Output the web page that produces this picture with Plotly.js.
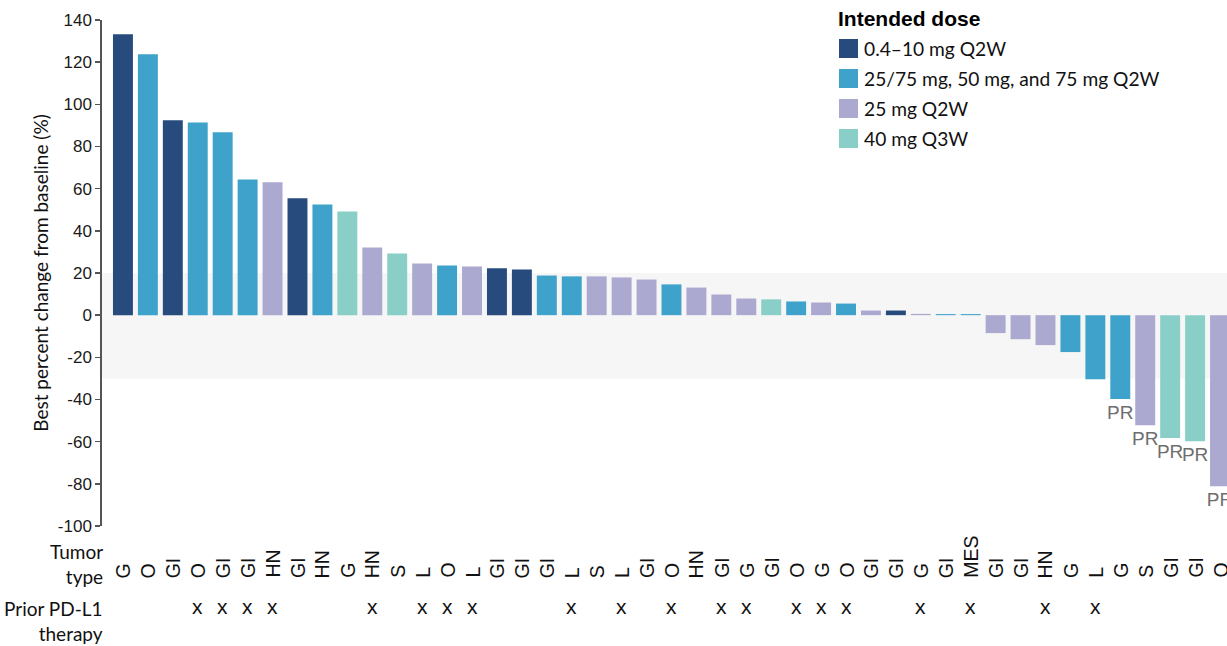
<!DOCTYPE html>
<html>
<head>
<meta charset="utf-8">
<script src="https://cdn.plot.ly/plotly-3.0.1.min.js"></script>
<style>
  html, body { margin: 0; padding: 0; background: #ffffff; }
  #chart { width: 1227px; height: 646px; }
</style>
</head>
<body>
<div id="chart"></div>
<script>
// Best percent change from baseline per patient, sorted descending
const patientIndex = [0,1,2,3,4,5,6,7,8,9,10,11,12,13,14,15,16,17,18,19,20,21,22,23,24,25,26,27,28,29,30,31,32,33,34,35,36,37,38,39,40,41,42,43,44];
const bestChange = [133.2, 123.7, 92.4, 91.4, 86.7, 64.4, 63.0, 55.4, 52.5, 49.2,
                    32.1, 29.3, 24.5, 23.6, 23.1, 22.2, 21.7, 18.8, 18.4, 18.4,
                    17.9, 16.9, 14.6, 13.1, 9.8, 7.9, 7.5, 6.5, 6.0, 5.5,
                    2.2, 2.2, 0.6, 0.5, 0.5, -8.5, -11.4, -14.2, -17.5, -30.4,
                    -39.8, -52.2, -58.3, -59.8, -81.1];
// Intended dose group for each patient (index into doseLabels)
const doseGroup = [0,1,0,1,1,1,2,0,1,3, 2,3,2,1,2,0,0,1,1,2, 2,2,1,2,2,2,3,1,2,1,
                   2,0,2,1,1,2,2,2,1,1, 1,2,3,3,2];
const doseLabels = ['0.4\u201310 mg Q2W', '25/75 mg, 50 mg, and 75 mg Q2W', '25 mg Q2W', '40 mg Q3W'];
const doseColors = ['#274b7d', '#3fa2ca', '#aca9d0', '#89cfc8'];
const tumorType = ['G','O','GI','O','GI','GI','HN','GI','HN','G','HN','S','L','O','L','GI','GI','GI','L','S',
                   'L','GI','O','HN','GI','G','GI','O','G','O','GI','GI','G','GI','MES','GI','GI','HN','G','L',
                   'G','S','GI','GI','O'];
const priorPDL1 = [0,0,0,1,1,1,1,0,0,0, 1,0,1,1,1,0,0,0,1,0, 1,0,1,0,1,1,0,1,1,1,
                   0,0,1,0,1,0,0,1,0,1, 0,0,0,0,0];
const response = ['','','','','','','','','','', '','','','','','','','','','',
                  '','','','','','','','','','', '','','','','','','','','','',
                  'PR','PR','PR','PR','PR'];
const yTicks = [140, 120, 100, 80, 60, 40, 20, 0, -20, -40, -60, -80, -100];

// Plot area geometry in pixels
const W = 1227, H = 646;
const M = { l: 102, r: 0, t: 20, b: 120 };
const plotW = W - M.l - M.r, plotH = H - M.t - M.b;
const px2x = px => (px - M.l) / plotW;
const px2y = py => (M.t + plotH - py) / plotH;

const ARIAL = 'Liberation Sans, Arial, sans-serif';
const HUMAN = 'Lato, Open Sans, sans-serif';

const trace = {
  type: 'bar',
  x: patientIndex,
  y: bestChange,
  width: 0.8,
  marker: { color: doseGroup.map(g => doseColors[g]), line: { width: 0 } },
  text: response,
  textposition: 'outside',
  textangle: 0,
  constraintext: 'none',
  cliponaxis: false,
  textfont: { family: ARIAL, size: 19, color: '#6e6e6e' },
  hoverinfo: 'skip',
  showlegend: false
};

const annotations = [];
const shapes = [];

// Band between -30% and +20%
shapes.push({
  type: 'rect', xref: 'paper', yref: 'y', x0: 0, x1: 1, y0: -30, y1: 20,
  fillcolor: '#f6f6f6', line: { width: 0 }, layer: 'below'
});

// Tumor type labels, rotated, aligned at the bottom; prior therapy marks below
tumorType.forEach((t, i) => {
  annotations.push({
    xref: 'x', yref: 'paper', x: patientIndex[i], y: px2y(580),
    text: t, textangle: -90, showarrow: false,
    xanchor: 'center', yanchor: 'bottom',
    font: { family: ARIAL, size: 19.5, color: '#111111' }
  });
  if (priorPDL1[i]) {
    annotations.push({
      xref: 'x', yref: 'paper', x: patientIndex[i], y: px2y(606),
      text: 'x', showarrow: false, xanchor: 'center', yanchor: 'middle',
      font: { family: ARIAL, size: 21, color: '#111111' }
    });
  }
});

// Row headers
annotations.push({
  xref: 'paper', yref: 'paper', x: 0, y: px2y(564), xshift: 3,
  text: 'Tumor<br>type', align: 'right', showarrow: false,
  xanchor: 'right', yanchor: 'middle',
  font: { family: HUMAN, size: 19, color: '#111111' }
});
annotations.push({
  xref: 'paper', yref: 'paper', x: 0, y: px2y(621), xshift: 3,
  text: 'Prior PD-L1<br>therapy', align: 'right', showarrow: false,
  xanchor: 'right', yanchor: 'middle',
  font: { family: HUMAN, size: 19, color: '#111111' }
});

// Dose legend
annotations.push({
  xref: 'paper', yref: 'paper', x: px2x(836), y: px2y(18),
  text: '<b>Intended dose</b>', showarrow: false, xanchor: 'left', yanchor: 'middle',
  font: { family: ARIAL, size: 21, color: '#000000' }
});
doseLabels.forEach((lab, k) => {
  const cy = 48.5 + 30 * k;
  shapes.push({
    type: 'rect', xref: 'paper', yref: 'paper',
    x0: px2x(839), x1: px2x(858), y0: px2y(cy + 9.5), y1: px2y(cy - 9.5),
    fillcolor: doseColors[k], line: { width: 0 }
  });
  annotations.push({
    xref: 'paper', yref: 'paper', x: px2x(862), y: px2y(cy),
    text: lab, showarrow: false, xanchor: 'left', yanchor: 'middle',
    font: { family: HUMAN, size: 19.2, color: '#111111' }
  });
});

const layout = {
  width: W, height: H,
  margin: M,
  paper_bgcolor: '#ffffff', plot_bgcolor: 'rgba(0,0,0,0)',
  showlegend: false,
  xaxis: {
    range: [-0.84, 44.28], visible: false, fixedrange: true
  },
  yaxis: {
    range: [-100, 140],
    tickmode: 'array', tickvals: yTicks, ticktext: yTicks.map(v => String(v)),
    showgrid: false, zeroline: false,
    showline: true, linecolor: '#555555', linewidth: 1.7,
    ticks: 'outside', ticklen: 5, tickwidth: 1.5, tickcolor: '#555555',
    tickfont: { family: ARIAL, size: 17, color: '#1a1a1a' },
    title: { text: 'Best percent change from baseline (%)', standoff: 4,
             font: { family: HUMAN, size: 19, color: '#111111' } },
    fixedrange: true
  },
  shapes: shapes,
  annotations: annotations
};

Plotly.newPlot('chart', [trace], layout, { displayModeBar: false, staticPlot: true });
</script>
</body>
</html>
